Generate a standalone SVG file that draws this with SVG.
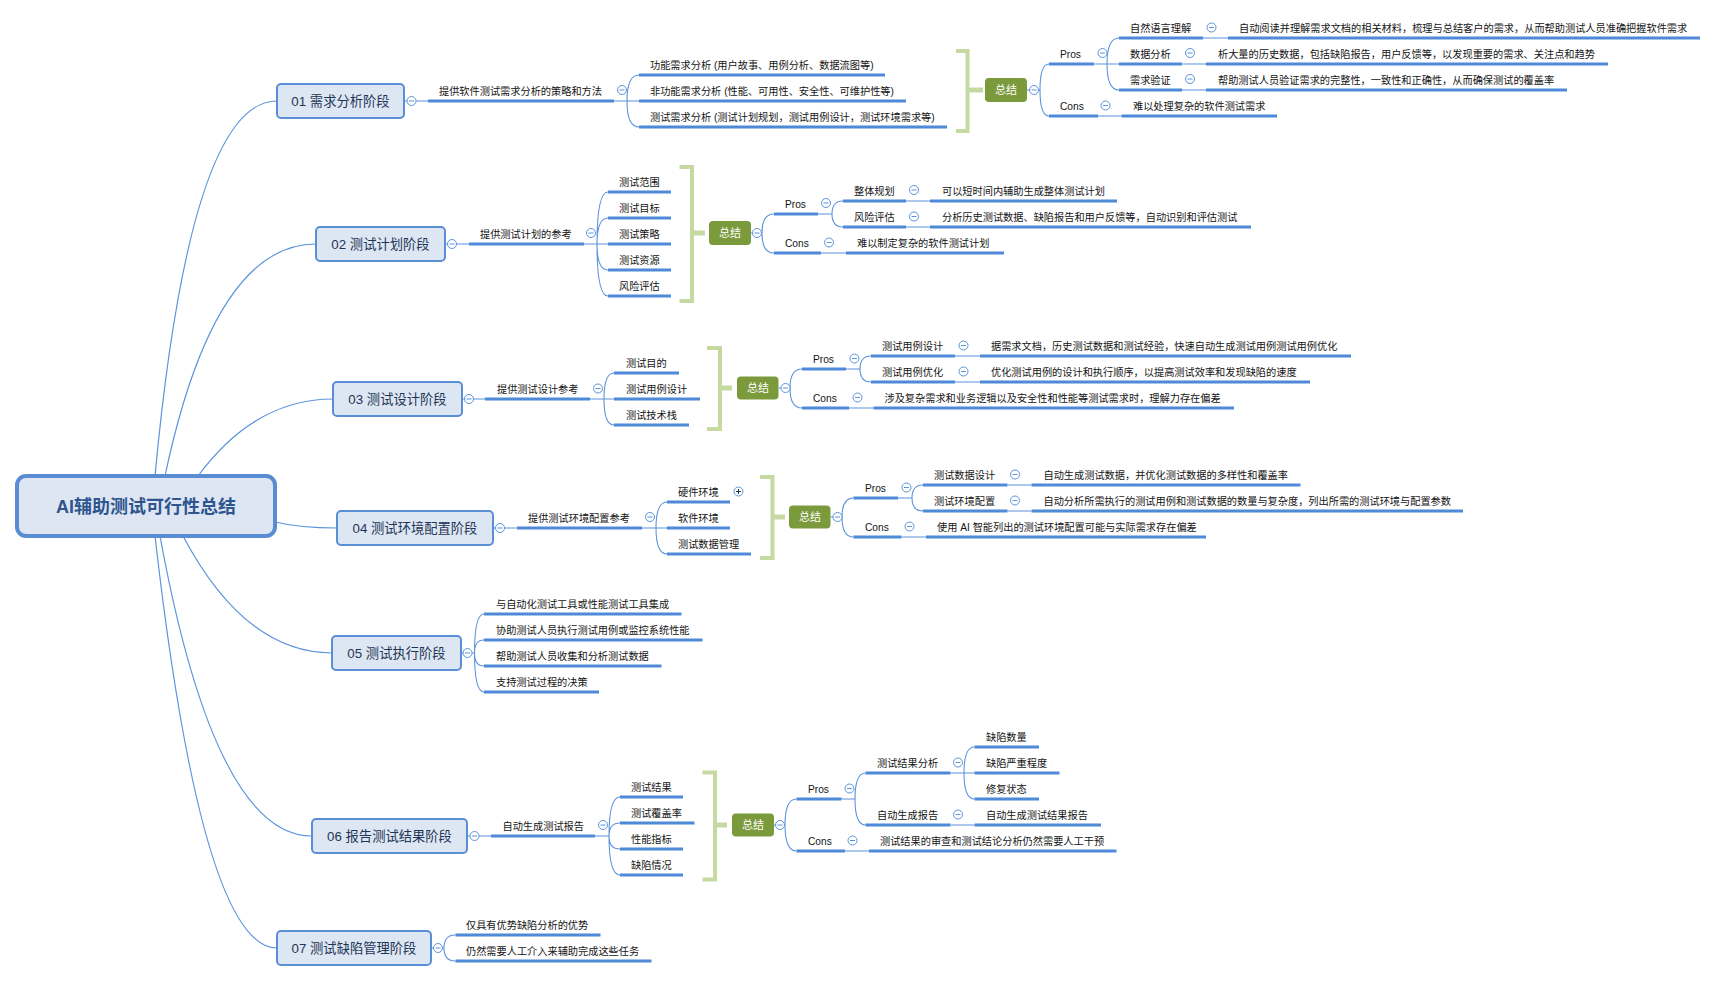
<svg xmlns="http://www.w3.org/2000/svg" xmlns:xlink="http://www.w3.org/1999/xlink" width="1718" height="982" viewBox="0 0 1718 982">
<style>
text{font-family:"Liberation Sans","Noto Sans CJK SC",sans-serif;}
.t{font-size:10.2px;fill:#141414;}
.ul{stroke:#4f8ad8;stroke-width:3;fill:none;}
.c{stroke:#5b93dc;stroke-width:1.1;fill:none;}
.rc{stroke:#5b93dc;stroke-width:1.2;fill:none;}
.cc{fill:#fff;stroke:#5b93dc;stroke-width:1;}
.mn{stroke:#5b93dc;stroke-width:1;}
.st rect{fill:#dde7f3;stroke:#5a8fd8;stroke-width:2;}
.st text{font-size:13.3px;fill:#1f3556;text-anchor:middle;}
.sm rect{fill:#7a9a3c;}
.sm text{font-size:11px;fill:#fff;text-anchor:middle;}
.br{stroke:#c6d9a1;stroke-width:4;fill:none;}
.bs{stroke:#c6d9a1;stroke-width:5;}
.root rect{fill:#dde6f2;stroke:#5a8cd4;stroke-width:4;}
.root text{font-size:18px;font-weight:bold;fill:#2e558f;text-anchor:middle;}
</style>
<defs>
<g id="mi"><circle r="4.5" class="cc"/><line x1="-2.5" x2="2.5" y1="0" y2="0" class="mn"/></g>
<g id="pl"><circle r="4.5" class="cc"/><path d="M-2.5,0H2.5M0,-2.5V2.5" stroke="#1f3556" stroke-width="1"/></g>
</defs>
<rect width="1718" height="982" fill="#fff"/>

<g id="connectors">
<path class="rc" d="M155,476 Q190,101 277,101"/>
<path class="rc" d="M165,476 Q214,244 316,244"/>
<path class="rc" d="M198,476 Q255,399 333,399"/>
<path class="rc" d="M275,522 Q300,528 337,528"/>
<path class="rc" d="M183,536 Q245,653 332,653"/>
<path class="rc" d="M160,536 Q215,836 312,836"/>
<path class="rc" d="M155,536 Q202,948 277,948"/>

<path class="c" d="M404,101H428 M614,101H627 M627,101Q627,75 639,75 M627,101H639 M627,101Q627,127 639,127 M1027,90H1040 M1040,90Q1040,64 1049,64 M1040,90Q1040,116 1049,116 M1094,64H1107 M1107,64Q1107,38 1119,38 M1107,64H1119 M1107,64Q1107,90 1119,90 M1203,38H1228 M1182,64H1206 M1182,90H1206 M1098,116H1121.5"/>
<path class="c" d="M445,244H469 M584,244H597 M597,244Q597,192 608,192 M597,244Q597,218 608,218 M597,244H608 M597,244Q597,270 608,270 M597,244Q597,296 608,296 M751,233H762 M762,233Q762,214 774,214 M762,233Q762,253 774,253 M818,214H832 M832,214Q832,201 843,201 M832,214Q832,227 843,227 M906,201H930 M906,227H930 M821,253H846"/>
<path class="c" d="M462,399H485 M590,399H604 M604,399Q604,373 614,373 M604,399H614 M604,399Q604,425 614,425 M778.5,388H790 M790,388Q790,369 802,369 M790,388Q790,408 802,408 M846,369H860 M860,369Q860,356 871,356 M860,369Q860,382 871,382 M955,356H980 M955,382H980 M849,408H873.5"/>
<path class="c" d="M493,528H517 M642,528H656 M656,528Q656,502 667,502 M656,528H667 M656,528Q656,554 667,554 M830.5,517H842 M842,517Q842,498 853.5,498 M842,517Q842,537 853.5,537 M898,498H912 M912,498Q912,485 923,485 M912,498Q912,511 923,511 M1007.5,485H1031.5 M1007.5,511H1031.5 M901.5,537H926"/>
<path class="c" d="M461,653H474.5 M474.5,653Q474.5,614 484,614 M474.5,653Q474.5,640 484,640 M474.5,653Q474.5,666 484,666 M474.5,653Q474.5,692 484,692"/>
<path class="c" d="M467,836H491 M595,836H609 M609,836Q609,797 620,797 M609,836Q609,823 620,823 M609,836Q609,849 620,849 M609,836Q609,875 620,875 M774,825H785 M785,825Q785,799 796.5,799 M785,825Q785,851 796.5,851 M841.5,799H855 M855,799Q855,773 865.5,773 M855,799Q855,825 865.5,825 M950.5,773H964 M964,773Q964,747 974.5,747 M964,773H974.5 M964,773Q964,799 974.5,799 M950.5,825H974.5 M845,851H869"/>
<path class="c" d="M431,948H444 M444,948Q444,935 455.5,935 M444,948Q444,961 455.5,961"/>
</g>

<g id="root" class="root">
<rect x="17" y="476" width="258" height="60" rx="9"/>
<text x="146" y="512.5">AI辅助测试可行性总结</text>
</g>

<!-- Row 1 -->
<g id="stage01" class="st"><rect x="277" y="84" width="127" height="34" rx="4"/><text x="340.5" y="105.5">01 需求分析阶段</text><use xlink:href="#mi" x="411.5" y="101"/></g>
<g id="n1a"><text class="t" x="439" y="95">提供软件测试需求分析的策略和方法</text><line class="ul" x1="428" y1="101" x2="614" y2="101"/><use xlink:href="#mi" x="622" y="90"/></g>
<g id="n1a1"><text class="t" x="650" y="69">功能需求分析 (用户故事、用例分析、数据流图等)</text><line class="ul" x1="639" y1="75" x2="885" y2="75"/></g>
<g id="n1a2"><text class="t" x="650" y="95">非功能需求分析 (性能、可用性、安全性、可维护性等)</text><line class="ul" x1="639" y1="101" x2="906" y2="101"/></g>
<g id="n1a3"><text class="t" x="650" y="121">测试需求分析 (测试计划规划，测试用例设计，测试环境需求等)</text><line class="ul" x1="639" y1="127" x2="947" y2="127"/></g>
<g id="s1" class="sm"><path class="br" d="M956,51H967.5V131H956"/><line class="bs" x1="967.5" y1="90" x2="983" y2="90"/><rect x="985" y="78" width="42" height="24" rx="4"/><text x="1006" y="94">总结</text><use xlink:href="#mi" x="1034" y="90"/></g>
<g id="p1"><text class="t" x="1060" y="58">Pros</text><line class="ul" x1="1049" y1="64" x2="1094" y2="64"/><use xlink:href="#mi" x="1102.5" y="53"/></g>
<g id="p1a"><text class="t" x="1130" y="32">自然语言理解</text><line class="ul" x1="1119" y1="38" x2="1203" y2="38"/><use xlink:href="#mi" x="1211.5" y="27.5"/></g>
<g id="p1a1"><text class="t" x="1239" y="32">自动阅读并理解需求文档的相关材料，梳理与总结客户的需求，从而帮助测试人员准确把握软件需求</text><line class="ul" x1="1228" y1="38" x2="1700" y2="38"/></g>
<g id="p1b"><text class="t" x="1130" y="58">数据分析</text><line class="ul" x1="1119" y1="64" x2="1182" y2="64"/><use xlink:href="#mi" x="1190" y="53"/></g>
<g id="p1b1"><text class="t" x="1218" y="58">析大量的历史数据，包括缺陷报告，用户反馈等，以发现重要的需求、关注点和趋势</text><line class="ul" x1="1206" y1="64" x2="1608" y2="64"/></g>
<g id="p1c"><text class="t" x="1130" y="84">需求验证</text><line class="ul" x1="1119" y1="90" x2="1182" y2="90"/><use xlink:href="#mi" x="1190" y="79"/></g>
<g id="p1c1"><text class="t" x="1218" y="84">帮助测试人员验证需求的完整性，一致性和正确性，从而确保测试的覆盖率</text><line class="ul" x1="1206" y1="90" x2="1567" y2="90"/></g>
<g id="c1"><text class="t" x="1060" y="110">Cons</text><line class="ul" x1="1049" y1="116" x2="1098" y2="116"/><use xlink:href="#mi" x="1105.5" y="105.5"/></g>
<g id="c1a"><text class="t" x="1133" y="110">难以处理复杂的软件测试需求</text><line class="ul" x1="1121.5" y1="116" x2="1277" y2="116"/></g>

<!-- Row 2 -->
<g id="stage02" class="st"><rect x="316" y="227" width="129" height="34" rx="4"/><text x="380.5" y="248.5">02 测试计划阶段</text><use xlink:href="#mi" x="452" y="244"/></g>
<g id="n2a"><text class="t" x="480" y="238">提供测试计划的参考</text><line class="ul" x1="469" y1="244" x2="584" y2="244"/><use xlink:href="#mi" x="591" y="233"/></g>
<g id="n2a1"><text class="t" x="619" y="186">测试范围</text><line class="ul" x1="608" y1="192" x2="671" y2="192"/></g>
<g id="n2a2"><text class="t" x="619" y="212">测试目标</text><line class="ul" x1="608" y1="218" x2="671" y2="218"/></g>
<g id="n2a3"><text class="t" x="619" y="238">测试策略</text><line class="ul" x1="608" y1="244" x2="671" y2="244"/></g>
<g id="n2a4"><text class="t" x="619" y="264">测试资源</text><line class="ul" x1="608" y1="270" x2="671" y2="270"/></g>
<g id="n2a5"><text class="t" x="619" y="290">风险评估</text><line class="ul" x1="608" y1="296" x2="671" y2="296"/></g>
<g id="s2" class="sm"><path class="br" d="M679.5,167H692V301H679.5"/><line class="bs" x1="692" y1="233" x2="705" y2="233"/><rect x="709" y="221" width="42" height="24" rx="4"/><text x="730" y="237">总结</text><use xlink:href="#mi" x="757" y="233"/></g>
<g id="p2"><text class="t" x="785" y="208">Pros</text><line class="ul" x1="774" y1="214" x2="818" y2="214"/><use xlink:href="#mi" x="826" y="203"/></g>
<g id="p2a"><text class="t" x="854" y="195">整体规划</text><line class="ul" x1="843" y1="201" x2="906" y2="201"/><use xlink:href="#mi" x="914" y="190"/></g>
<g id="p2a1"><text class="t" x="942" y="195">可以短时间内辅助生成整体测试计划</text><line class="ul" x1="930" y1="201" x2="1117" y2="201"/></g>
<g id="p2b"><text class="t" x="854" y="221">风险评估</text><line class="ul" x1="843" y1="227" x2="906" y2="227"/><use xlink:href="#mi" x="914" y="216.5"/></g>
<g id="p2b1"><text class="t" x="942" y="221">分析历史测试数据、缺陷报告和用户反馈等，自动识别和评估测试</text><line class="ul" x1="930" y1="227" x2="1251" y2="227"/></g>
<g id="c2"><text class="t" x="785" y="247">Cons</text><line class="ul" x1="774" y1="253" x2="821" y2="253"/><use xlink:href="#mi" x="829" y="242.5"/></g>
<g id="c2a"><text class="t" x="857" y="247">难以制定复杂的软件测试计划</text><line class="ul" x1="846" y1="253" x2="1004" y2="253"/></g>

<!-- Row 3 -->
<g id="stage03" class="st"><rect x="333" y="382" width="129" height="34" rx="4"/><text x="397.5" y="403.5">03 测试设计阶段</text><use xlink:href="#mi" x="469" y="399"/></g>
<g id="n3a"><text class="t" x="497" y="393">提供测试设计参考</text><line class="ul" x1="485" y1="399" x2="590" y2="399"/><use xlink:href="#mi" x="598" y="388.5"/></g>
<g id="n3a1"><text class="t" x="626" y="367">测试目的</text><line class="ul" x1="614" y1="373" x2="679" y2="373"/></g>
<g id="n3a2"><text class="t" x="626" y="393">测试用例设计</text><line class="ul" x1="614" y1="399" x2="700" y2="399"/></g>
<g id="n3a3"><text class="t" x="626" y="419">测试技术栈</text><line class="ul" x1="614" y1="425" x2="689" y2="425"/></g>
<g id="s3" class="sm"><path class="br" d="M707,348H720V429H707"/><line class="bs" x1="720" y1="388" x2="732" y2="388"/><rect x="737" y="376.5" width="41.5" height="23" rx="4"/><text x="758" y="392">总结</text><use xlink:href="#mi" x="785.5" y="388"/></g>
<g id="p3"><text class="t" x="813" y="363">Pros</text><line class="ul" x1="802" y1="369" x2="846" y2="369"/><use xlink:href="#mi" x="854.5" y="358.5"/></g>
<g id="p3a"><text class="t" x="882" y="350">测试用例设计</text><line class="ul" x1="871" y1="356" x2="955" y2="356"/><use xlink:href="#mi" x="963.5" y="345.5"/></g>
<g id="p3a1"><text class="t" x="991" y="350">据需求文档，历史测试数据和测试经验，快速自动生成测试用例测试用例优化</text><line class="ul" x1="980" y1="356" x2="1351" y2="356"/></g>
<g id="p3b"><text class="t" x="882" y="376">测试用例优化</text><line class="ul" x1="871" y1="382" x2="955" y2="382"/><use xlink:href="#mi" x="963.5" y="371.5"/></g>
<g id="p3b1"><text class="t" x="991" y="376">优化测试用例的设计和执行顺序，以提高测试效率和发现缺陷的速度</text><line class="ul" x1="980" y1="382" x2="1310" y2="382"/></g>
<g id="c3"><text class="t" x="813" y="402">Cons</text><line class="ul" x1="802" y1="408" x2="849" y2="408"/><use xlink:href="#mi" x="857.5" y="397.5"/></g>
<g id="c3a"><text class="t" x="884.5" y="402">涉及复杂需求和业务逻辑以及安全性和性能等测试需求时，理解力存在偏差</text><line class="ul" x1="873.5" y1="408" x2="1234" y2="408"/></g>

<!-- Row 4 -->
<g id="stage04" class="st"><rect x="337" y="511" width="156" height="34" rx="4"/><text x="415" y="532.5">04 测试环境配置阶段</text><use xlink:href="#mi" x="500" y="528"/></g>
<g id="n4a"><text class="t" x="528" y="522">提供测试环境配置参考</text><line class="ul" x1="517" y1="528" x2="642" y2="528"/><use xlink:href="#mi" x="650" y="517"/></g>
<g id="n4a1"><text class="t" x="678" y="496">硬件环境</text><line class="ul" x1="667" y1="502" x2="730" y2="502"/><use xlink:href="#pl" x="738.5" y="491.5"/></g>
<g id="n4a2"><text class="t" x="678" y="522">软件环境</text><line class="ul" x1="667" y1="528" x2="730" y2="528"/></g>
<g id="n4a3"><text class="t" x="678" y="548">测试数据管理</text><line class="ul" x1="667" y1="554" x2="751" y2="554"/></g>
<g id="s4" class="sm"><path class="br" d="M760,477H772.5V558H760"/><line class="bs" x1="772.5" y1="517" x2="785" y2="517"/><rect x="789" y="505.5" width="41.5" height="23" rx="4"/><text x="810" y="521">总结</text><use xlink:href="#mi" x="837.5" y="517"/></g>
<g id="p4"><text class="t" x="865" y="492">Pros</text><line class="ul" x1="853.5" y1="498" x2="898" y2="498"/><use xlink:href="#mi" x="906.5" y="487.5"/></g>
<g id="p4a"><text class="t" x="934" y="479">测试数据设计</text><line class="ul" x1="923" y1="485" x2="1007.5" y2="485"/><use xlink:href="#mi" x="1015" y="474.5"/></g>
<g id="p4a1"><text class="t" x="1043.5" y="479">自动生成测试数据，并优化测试数据的多样性和覆盖率</text><line class="ul" x1="1031.5" y1="485" x2="1300.5" y2="485"/></g>
<g id="p4b"><text class="t" x="934" y="505">测试环境配置</text><line class="ul" x1="923" y1="511" x2="1007.5" y2="511"/><use xlink:href="#mi" x="1015" y="500.5"/></g>
<g id="p4b1"><text class="t" x="1043.5" y="505">自动分析所需执行的测试用例和测试数据的数量与复杂度，列出所需的测试环境与配置参数</text><line class="ul" x1="1031.5" y1="511" x2="1463" y2="511"/></g>
<g id="c4"><text class="t" x="865" y="531">Cons</text><line class="ul" x1="853.5" y1="537" x2="901.5" y2="537"/><use xlink:href="#mi" x="909.5" y="526.5"/></g>
<g id="c4a"><text class="t" x="937" y="531">使用 AI 智能列出的测试环境配置可能与实际需求存在偏差</text><line class="ul" x1="926" y1="537" x2="1206" y2="537"/></g>

<!-- Row 5 -->
<g id="stage05" class="st"><rect x="332" y="636" width="129" height="34" rx="4"/><text x="396.5" y="657.5">05 测试执行阶段</text><use xlink:href="#mi" x="467.5" y="653"/></g>
<g id="n5a"><text class="t" x="496" y="608">与自动化测试工具或性能测试工具集成</text><line class="ul" x1="484" y1="614" x2="681.5" y2="614"/></g>
<g id="n5b"><text class="t" x="496" y="634">协助测试人员执行测试用例或监控系统性能</text><line class="ul" x1="484" y1="640" x2="702.5" y2="640"/></g>
<g id="n5c"><text class="t" x="496" y="660">帮助测试人员收集和分析测试数据</text><line class="ul" x1="484" y1="666" x2="661.5" y2="666"/></g>
<g id="n5d"><text class="t" x="496" y="686">支持测试过程的决策</text><line class="ul" x1="484" y1="692" x2="599" y2="692"/></g>

<!-- Row 6 -->
<g id="stage06" class="st"><rect x="312" y="819" width="155" height="34" rx="4"/><text x="389.5" y="840.5">06 报告测试结果阶段</text><use xlink:href="#mi" x="474.5" y="836"/></g>
<g id="n6a"><text class="t" x="502.5" y="830">自动生成测试报告</text><line class="ul" x1="491" y1="836" x2="595" y2="836"/><use xlink:href="#mi" x="603" y="825"/></g>
<g id="n6a1"><text class="t" x="631" y="791">测试结果</text><line class="ul" x1="620" y1="797" x2="683" y2="797"/></g>
<g id="n6a2"><text class="t" x="631" y="817">测试覆盖率</text><line class="ul" x1="620" y1="823" x2="694.5" y2="823"/></g>
<g id="n6a3"><text class="t" x="631" y="843">性能指标</text><line class="ul" x1="620" y1="849" x2="683" y2="849"/></g>
<g id="n6a4"><text class="t" x="631" y="869">缺陷情况</text><line class="ul" x1="620" y1="875" x2="683" y2="875"/></g>
<g id="s6" class="sm"><path class="br" d="M702.5,772.5H715V879.5H702.5"/><line class="bs" x1="715" y1="825" x2="727" y2="825"/><rect x="732" y="813.5" width="42" height="23" rx="4"/><text x="753" y="829">总结</text><use xlink:href="#mi" x="780" y="825"/></g>
<g id="p6"><text class="t" x="808" y="793">Pros</text><line class="ul" x1="796.5" y1="799" x2="841.5" y2="799"/><use xlink:href="#mi" x="849.5" y="788.5"/></g>
<g id="p6a"><text class="t" x="877" y="767">测试结果分析</text><line class="ul" x1="865.5" y1="773" x2="950.5" y2="773"/><use xlink:href="#mi" x="958" y="762.5"/></g>
<g id="p6a1"><text class="t" x="986" y="741">缺陷数量</text><line class="ul" x1="974.5" y1="747" x2="1039" y2="747"/></g>
<g id="p6a2"><text class="t" x="986" y="767">缺陷严重程度</text><line class="ul" x1="974.5" y1="773" x2="1059.5" y2="773"/></g>
<g id="p6a3"><text class="t" x="986" y="793">修复状态</text><line class="ul" x1="974.5" y1="799" x2="1039" y2="799"/></g>
<g id="p6b"><text class="t" x="877" y="819">自动生成报告</text><line class="ul" x1="865.5" y1="825" x2="950.5" y2="825"/><use xlink:href="#mi" x="958" y="814.5"/></g>
<g id="p6b1"><text class="t" x="986" y="819">自动生成测试结果报告</text><line class="ul" x1="974.5" y1="825" x2="1101" y2="825"/></g>
<g id="c6"><text class="t" x="808" y="845">Cons</text><line class="ul" x1="796.5" y1="851" x2="845" y2="851"/><use xlink:href="#mi" x="852.5" y="840.5"/></g>
<g id="c6a"><text class="t" x="880" y="845">测试结果的审查和测试结论分析仍然需要人工干预</text><line class="ul" x1="869" y1="851" x2="1116.5" y2="851"/></g>

<!-- Row 7 -->
<g id="stage07" class="st"><rect x="277" y="931" width="154" height="34" rx="4"/><text x="354" y="952.5">07 测试缺陷管理阶段</text><use xlink:href="#mi" x="438" y="948"/></g>
<g id="n7a"><text class="t" x="466" y="929">仅具有优势缺陷分析的优势</text><line class="ul" x1="455.5" y1="935" x2="600.5" y2="935"/></g>
<g id="n7b"><text class="t" x="466" y="955">仍然需要人工介入来辅助完成这些任务</text><line class="ul" x1="455.5" y1="961" x2="651.5" y2="961"/></g>
</svg>
